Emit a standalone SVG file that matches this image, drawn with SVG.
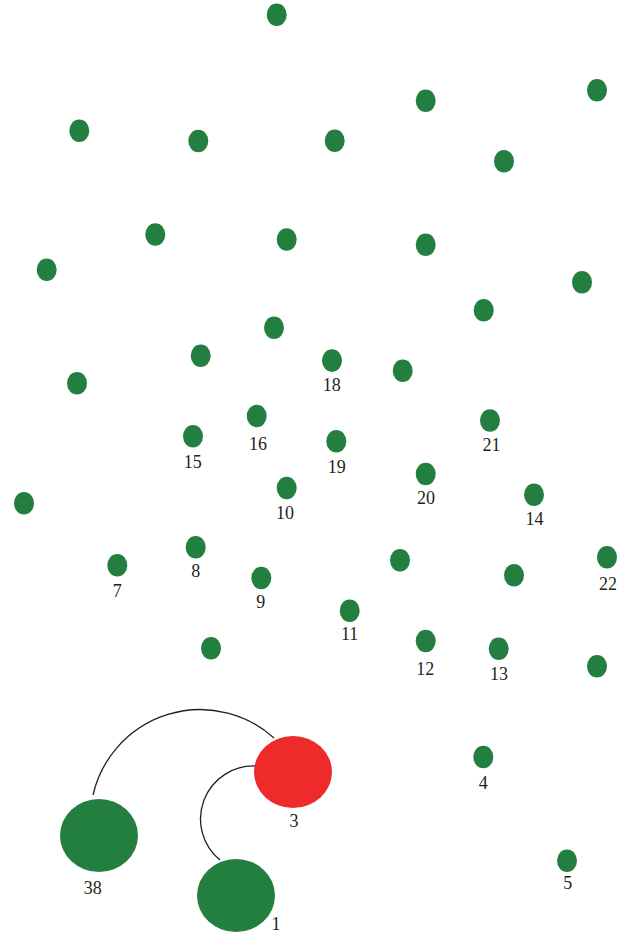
<svg xmlns="http://www.w3.org/2000/svg" width="625" height="934" viewBox="0 0 625 934">
<style>
.n{fill:#237f3f}
.r{fill:#ee2a2a}
.e{fill:none;stroke:#231f20;stroke-width:1.3}
text{font-family:"Liberation Serif","Times New Roman",serif;font-size:18px;fill:#231f20;text-anchor:middle}
</style>
<rect width="625" height="934" fill="#ffffff"/>
<g id="edges">
<path class="e" d="M93,795 A110,110 0 0 1 274,738"/>
<path class="e" d="M256,766 A53,53 0 0 0 220,860"/>
</g>
<g id="u1"><ellipse class="n" cx="276.7" cy="14.7" rx="10" ry="11.3"/></g>
<g id="u2"><ellipse class="n" cx="425.7" cy="100.7" rx="10" ry="11.3"/></g>
<g id="u3"><ellipse class="n" cx="597" cy="90.3" rx="10" ry="11.3"/></g>
<g id="u4"><ellipse class="n" cx="79.3" cy="130.7" rx="10" ry="11.3"/></g>
<g id="u5"><ellipse class="n" cx="198.3" cy="141" rx="10" ry="11.3"/></g>
<g id="u6"><ellipse class="n" cx="334.7" cy="140.8" rx="10" ry="11.3"/></g>
<g id="u7"><ellipse class="n" cx="504" cy="161.3" rx="10" ry="11.3"/></g>
<g id="u8"><ellipse class="n" cx="155.3" cy="234.5" rx="10" ry="11.3"/></g>
<g id="u9"><ellipse class="n" cx="286.7" cy="239.5" rx="10" ry="11.3"/></g>
<g id="u10"><ellipse class="n" cx="425.7" cy="244.7" rx="10" ry="11.3"/></g>
<g id="u11"><ellipse class="n" cx="46.7" cy="269.7" rx="10" ry="11.3"/></g>
<g id="u12"><ellipse class="n" cx="582" cy="282.3" rx="10" ry="11.3"/></g>
<g id="u13"><ellipse class="n" cx="483.7" cy="310.3" rx="10" ry="11.3"/></g>
<g id="u14"><ellipse class="n" cx="274" cy="327.8" rx="10" ry="11.3"/></g>
<g id="u15"><ellipse class="n" cx="200.7" cy="355.7" rx="10" ry="11.3"/></g>
<g id="u16"><ellipse class="n" cx="402.7" cy="370.7" rx="10" ry="11.3"/></g>
<g id="u17"><ellipse class="n" cx="77" cy="383.3" rx="10" ry="11.3"/></g>
<g id="u18"><ellipse class="n" cx="24" cy="503.3" rx="10" ry="11.3"/></g>
<g id="u19"><ellipse class="n" cx="400" cy="560.3" rx="10" ry="11.3"/></g>
<g id="u20"><ellipse class="n" cx="514" cy="575.3" rx="10" ry="11.3"/></g>
<g id="u21"><ellipse class="n" cx="211" cy="648.3" rx="10" ry="11.3"/></g>
<g id="u22"><ellipse class="n" cx="597" cy="666.3" rx="10" ry="11.3"/></g>
<g id="n18"><ellipse class="n" cx="332" cy="360.6" rx="10" ry="11.3"/><text x="331.7" y="391">18</text></g>
<g id="n16"><ellipse class="n" cx="256.7" cy="416" rx="10" ry="11.3"/><text x="258" y="450">16</text></g>
<g id="n15"><ellipse class="n" cx="193" cy="436.3" rx="10" ry="11.3"/><text x="192.8" y="468">15</text></g>
<g id="n19"><ellipse class="n" cx="336.3" cy="441.3" rx="10" ry="11.3"/><text x="336.7" y="473">19</text></g>
<g id="n10"><ellipse class="n" cx="286.7" cy="488" rx="10" ry="11.3"/><text x="285" y="519.3">10</text></g>
<g id="n21"><ellipse class="n" cx="490" cy="420.5" rx="10" ry="11.3"/><text x="491.5" y="451">21</text></g>
<g id="n20"><ellipse class="n" cx="425.7" cy="474" rx="10" ry="11.3"/><text x="426" y="504">20</text></g>
<g id="n14"><ellipse class="n" cx="534" cy="494.7" rx="10" ry="11.3"/><text x="534.5" y="525">14</text></g>
<g id="n22"><ellipse class="n" cx="607" cy="557.3" rx="10" ry="11.3"/><text x="608" y="590">22</text></g>
<g id="n7"><ellipse class="n" cx="117.3" cy="565.3" rx="10" ry="11.3"/><text x="117.3" y="596.7">7</text></g>
<g id="n8"><ellipse class="n" cx="195.7" cy="547.3" rx="10" ry="11.3"/><text x="195.7" y="577.3">8</text></g>
<g id="n9"><ellipse class="n" cx="261.3" cy="578" rx="10" ry="11.3"/><text x="260.7" y="607.7">9</text></g>
<g id="n11"><ellipse class="n" cx="349.7" cy="610.7" rx="10" ry="11.3"/><text x="349.7" y="640">11</text></g>
<g id="n12"><ellipse class="n" cx="425.7" cy="641" rx="10" ry="11.3"/><text x="425.3" y="675">12</text></g>
<g id="n13"><ellipse class="n" cx="498.7" cy="648.7" rx="10" ry="11.3"/><text x="499" y="680">13</text></g>
<g id="n4"><ellipse class="n" cx="483.3" cy="757" rx="10" ry="11.3"/><text x="483.3" y="789.3">4</text></g>
<g id="n5"><ellipse class="n" cx="567" cy="860.7" rx="10" ry="11.3"/><text x="567.7" y="889.3">5</text></g>
<g id="n38"><ellipse class="n" cx="99" cy="835.5" rx="39" ry="36.5"/><text x="92.7" y="894">38</text></g>
<g id="n3"><ellipse class="r" cx="293" cy="772" rx="39" ry="36"/><text x="294" y="827">3</text></g>
<g id="n1"><ellipse class="n" cx="236" cy="895.5" rx="39" ry="36.5"/><text x="276" y="930">1</text></g>
</svg>
